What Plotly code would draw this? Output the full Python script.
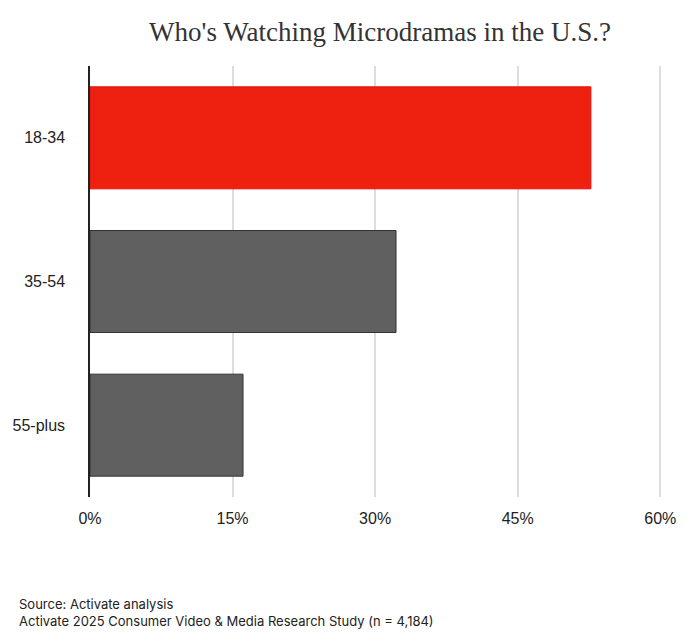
import plotly.graph_objects as go

categories = ["18-34", "35-54", "55-plus"]
values = [52.7, 32.2, 16.1]
bar_colors = ["#ee2010", "#606060", "#606060"]
line_colors = ["#e8100a", "#333333", "#333333"]
x_ticks = [0, 15, 30, 45, 60]
x_tick_labels = ["0%", "15%", "30%", "45%", "60%"]
title = "Who's Watching Microdramas in the U.S.?"
footnote = "Source: Activate analysis<br>Activate 2025 Consumer Video &amp; Media Research Study (n = 4,184)"

fig = go.Figure(go.Bar(
    y=categories, x=values, orientation="h",
    marker=dict(color=bar_colors, line=dict(color=line_colors, width=1)),
    width=0.71,
))

fig.update_layout(
    width=700, height=639,
    margin=dict(l=90, r=35, t=66, b=142),
    paper_bgcolor="white", plot_bgcolor="white",
    showlegend=False,
    title=dict(text=title, x=380/700, xanchor="center", y=1-32/639, yanchor="middle",
               font=dict(family="Liberation Serif", size=27, color="#333333")),
    font=dict(family="Inter", color="#222222"),
)
fig.update_xaxes(range=[0, 60.5], tickvals=x_ticks, ticktext=x_tick_labels,
                 showgrid=True, gridcolor="#dddddd", gridwidth=1.5, zeroline=False,
                 showline=False, tickfont=dict(family="Liberation Sans", size=16, color="#222222"),
                 ticklabelstandoff=10)
fig.update_yaxes(categoryorder="array", categoryarray=categories, autorange="reversed",
                 showline=True, linecolor="#222222", linewidth=1.5,
                 tickfont=dict(family="Liberation Sans", size=16, color="#222222"),
                 ticklabelstandoff=20, showgrid=False)

fig.add_annotation(text=footnote, xref="paper", yref="paper", x=-73/575, y=-(603-497-9)/431,
                   xanchor="left", yanchor="top", align="left", showarrow=False,
                   font=dict(family="Inter", size=13, color="#222222"))

fig.write_html("out.html")
